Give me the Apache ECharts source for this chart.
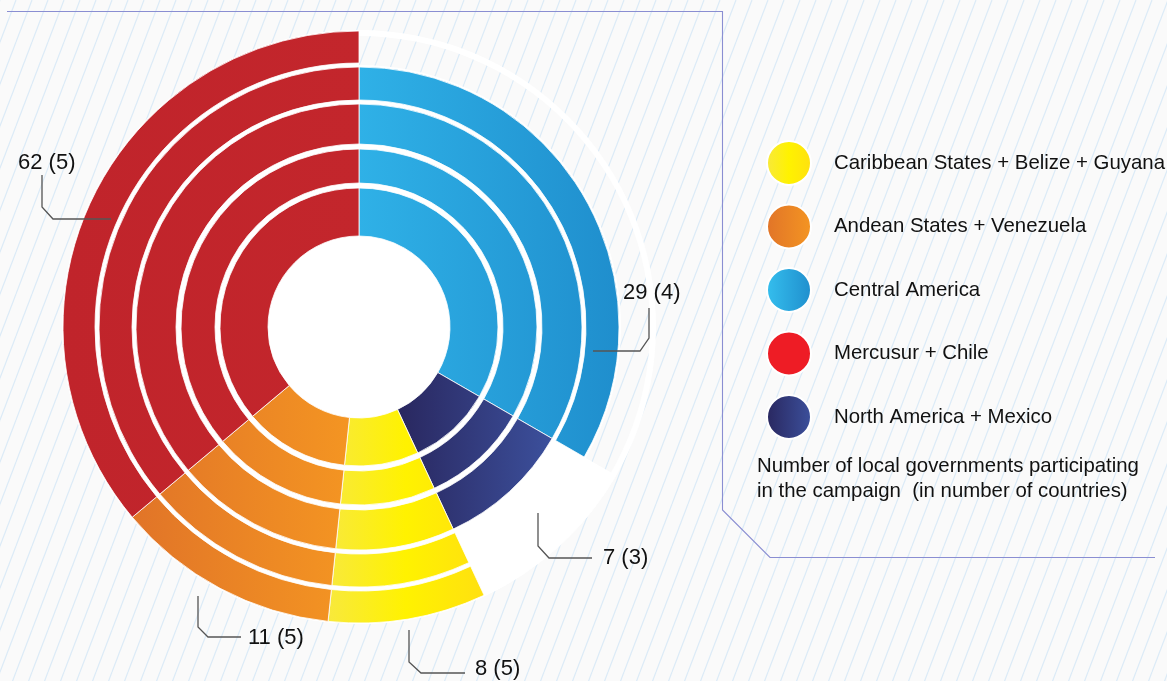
<!DOCTYPE html>
<html><head><meta charset="utf-8">
<style>html,body{margin:0;padding:0;background:#fafafa}#c{width:1167px;height:681px}</style>
<script src="https://cdn.jsdelivr.net/npm/echarts@6/dist/echarts.min.js"></script>
</head><body><div id="c"></div>
<script>
// ---------- DATA ----------
const regions = ['Central America', 'North America + Mexico', 'Caribbean States + Belize + Guyana', 'Andean States + Venezuela', 'Mercusur + Chile'];
const localGovs = [29, 7, 8, 11, 62];          // number of local governments
const countries = [4, 3, 5, 5, 5];             // number of countries (rings filled)
const arcDegrees = [120, 35, 31, 44, 130];     // angular span drawn for each region
const legendOrder = ['Caribbean States + Belize + Guyana', 'Andean States + Venezuela', 'Central America', 'Mercusur + Chile', 'North America + Mexico'];
const footnote = 'Number of local governments participating\nin the campaign  (in number of countries)';

// ---------- STYLE / LAYOUT ----------
const CX = 359, CY = 327;
const rings = [[91, 139], [144, 178], [183, 223], [227, 260], [264, 296]];
const FONT = '"Liberation Sans", Arial, Helvetica, sans-serif';
const colorStops = [
  ['#2FB1E7', '#1F8ECD'],
  ['#29275F', '#3C509C'],
  ['#F8E93C', '#FFF200', '#FFE010'],
  ['#E17428', '#F49522'],
  ['#C0242B', '#C3262C']
];
const legendStops = [
  ['#35BFEE', '#1F8ECD'],
  ['#29275F', '#3C509C'],
  ['#F8E93C', '#FFF200', '#FFE010'],
  ['#E17428', '#F49522'],
  ['#EE1C25', '#EE1C25']
];
function stopsOf(cs) { return cs.map((c, i) => ({ offset: i / (cs.length - 1), color: c })); }
function lg(cs) { return new echarts.graphic.LinearGradient(0, 0, 1, 0, stopsOf(cs)); }

// horizontal extent of each region's whole wedge -> one global gradient per region
const starts = [];
arcDegrees.reduce((acc, v, i) => { starts[i] = acc; return acc + v; }, 0);
function xRange(i) {
  const R = rings[countries[i] - 1][1], r = rings[0][0];
  let mn = Infinity, mx = -Infinity;
  for (let s = 0; s <= 60; s++) {
    const th = (starts[i] + arcDegrees[i] * s / 60) * Math.PI / 180;
    for (const rad of [r, R]) { const x = CX + rad * Math.sin(th); mn = Math.min(mn, x); mx = Math.max(mx, x); }
  }
  return [mn, mx];
}
const fills = colorStops.map((cs, i) => {
  const [x0, x1] = xRange(i);
  return new echarts.graphic.LinearGradient(x0, 0, x1, 0, stopsOf(cs), true);
});
const legendFills = legendStops.map(lg);

// annotation (leader line) layout, by region index
const annot = [
  { text: [623, 293], line: [[649, 308], [649, 338], [640, 351], [593, 351]] },
  { text: [603, 558], line: [[538, 513], [538, 546], [549, 558], [592, 558]] },
  { text: [475, 669], line: [[409, 630], [409, 662], [421, 673], [465, 673]] },
  { text: [248, 638], line: [[198, 596], [198, 627], [208, 637], [241, 637]] },
  { text: [18, 163], line: [[42, 175], [42, 207], [53, 219], [111, 219]] }
];

// stripe pattern
const pc = document.createElement('canvas');
pc.width = 16; pc.height = 42;
const g = pc.getContext('2d');
g.fillStyle = '#FAFAFA'; g.fillRect(0, 0, 16, 42);
g.strokeStyle = '#DCEBF7'; g.lineWidth = 1.2;
for (const off of [-16, 0, 16]) { g.beginPath(); g.moveTo(off, 42); g.lineTo(off + 16, 0); g.stroke(); }

const basePie = {
  type: 'pie', center: [CX, CY], startAngle: 90, clockwise: true, silent: true,
  avoidLabelOverlap: false, label: { show: false }, labelLine: { show: false },
  emphasis: { disabled: true }, animation: false
};

const series = [];
// white backing (hole + gaps between rings)
series.push(Object.assign({}, basePie, { z: 1, radius: [0, 262],
  data: [{ name: '_bg', value: 1, itemStyle: { color: '#fff' } }] }));
series.push(Object.assign({}, basePie, { z: 1, radius: [258, 297],
  data: arcDegrees.map((v, i) => ({ name: '_bg' + i, value: v, itemStyle: { color: i === 0 ? 'rgba(0,0,0,0)' : '#fff' } })) }));
// white outer arc
series.push(Object.assign({}, basePie, { z: 1, radius: [291, 297],
  data: [{ name: '_arc', value: 1, itemStyle: { color: '#fff' } }] }));
// rings
rings.forEach((r, k) => {
  series.push(Object.assign({}, basePie, {
    z: 2, radius: r,
    data: regions.map((name, i) => countries[i] > k
      ? { name, value: arcDegrees[i], itemStyle: { color: fills[i], borderColor: '#fff', borderWidth: 0.8 } }
      : { name: '_e' + i, value: arcDegrees[i], itemStyle: { color: 'rgba(0,0,0,0)' } })
  }));
});

const graphics = [
  { type: 'rect', z: -10, silent: true, shape: { x: 0, y: 0, width: 1167, height: 681 },
    style: { fill: { image: pc, repeat: 'repeat' } } },
  { type: 'polyline', z: 0, silent: true,
    shape: { points: [[7, 11.5], [722.5, 11.5], [722.5, 510], [770, 557.5], [1155, 557.5]] },
    style: { stroke: '#8A8ED2', lineWidth: 1.1, fill: null } }
];
annot.forEach((a, i) => {
  graphics.push({ type: 'polyline', z: 5, silent: true, shape: { points: a.line },
    style: { stroke: '#555', lineWidth: 1.3, fill: null } });
  graphics.push({ type: 'text', z: 5, silent: true, x: a.text[0], y: a.text[1],
    style: { text: localGovs[i] + ' (' + countries[i] + ')', fontSize: 22, fontFamily: FONT,
      fill: '#111', align: 'left', verticalAlign: 'middle' } });
});

const chart = echarts.init(document.getElementById('c'), null, { renderer: 'canvas' });
chart.setOption({
  backgroundColor: '#FAFAFA',
  animation: false,
  title: {
    text: footnote, left: 757, top: 454, padding: 0,
    textStyle: { fontSize: 20.4, fontWeight: 'normal', color: '#111', lineHeight: 25, fontFamily: FONT }
  },
  legend: {
    orient: 'vertical', left: 761, top: 135, itemWidth: 44, itemHeight: 44, itemGap: 17.5,
    icon: 'circle', selectedMode: false,
    textStyle: { fontSize: 20.4, color: '#111', fontFamily: FONT, padding: [0, 0, 0, 18] },
    data: legendOrder.map(n => ({ name: n, itemStyle: { color: legendFills[regions.indexOf(n)] } }))
  },
  graphic: { elements: graphics },
  series
});
</script></body></html>
